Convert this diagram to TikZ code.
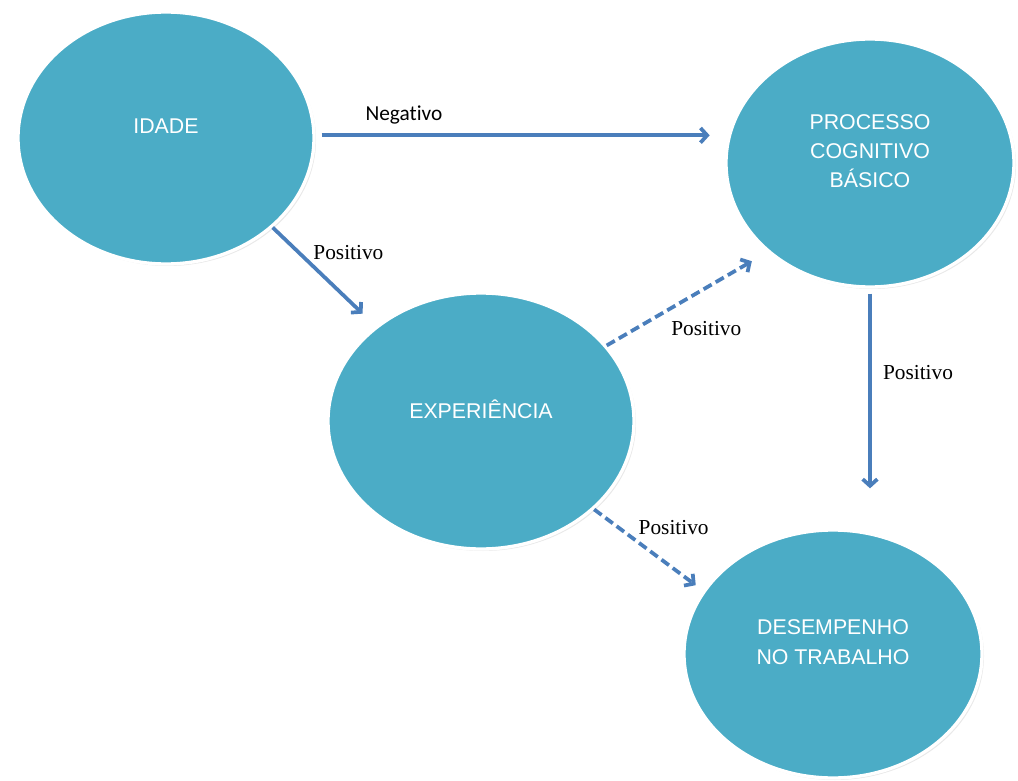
\documentclass[tikz,border=0pt]{standalone}
\usepackage{fontspec}
\setmainfont{Liberation Sans}
\newfontfamily\serifface{Liberation Serif}
\newfontfamily\calibriface[Ligatures=NoCommon]{Carlito}
\usetikzlibrary{positioning,arrows.meta,calc,shapes,shadows}
\definecolor{bubblefill}{HTML}{4BACC6}
\definecolor{arrowblue}{HTML}{4A7EBB}

\begin{document}
\begin{tikzpicture}[
    x=0.75pt, y=-0.75pt,
    bubble/.style={ellipse, draw=white, line width=2.5pt, fill=bubblefill, align=center, inner sep=0pt, text=white, font=\fontsize{16}{22}\selectfont, text depth=18pt, drop shadow={opacity=0.18, shadow xshift=1.5pt, shadow yshift=-1.5pt}},
    arrow/.style={-{Straight Barb[length=5pt, width=11pt]}, line width=2.8pt, draw=arrowblue},
    dasharrow/.style={arrow, dash pattern=on 7pt off 3.5pt},
    lbl/.style={font=\serifface\fontsize{16}{19}\selectfont, text=black}
]
\useasboundingbox (0,0) rectangle (1018,781);

% Nodes
\node[bubble, minimum width=222pt, minimum height=189pt] (idade) at (166,138) {IDADE};
\node[bubble, minimum width=216pt, minimum height=186pt] (processo) at (870,163) {PROCESSO\\COGNITIVO\\BÁSICO};
\node[bubble, minimum width=229.5pt, minimum height=192pt] (experiencia) at (481,421) {EXPERIÊNCIA};
\node[bubble, minimum width=223.5pt, minimum height=186pt] (desempenho) at (833,654) {DESEMPENHO\\NO TRABALHO};

% Arrows
\draw[arrow, shorten <=4.5pt, shorten >=11pt] ([yshift=2pt]idade.east) -- node[pos=0.216, yshift=15pt, font=\calibriface\fontsize{16}{19}\selectfont] {Negativo} ([yshift=2pt]idade.east -| processo.west);
\draw[arrow, shorten >=13.5pt] (idade.320) -- node[lbl, pos=0.25, xshift=37.5pt] {Positivo} (experiencia.138);
\draw[dasharrow, shorten >=13.5pt] (experiencia.31) -- node[lbl, pos=0.62, yshift=-30.75pt] {Positivo} (processo.221);
\draw[arrow, shorten <=3.75pt, shorten >=30pt] (processo.south) -- node[lbl, pos=0.35, xshift=36pt] {Positivo} (processo.south |- desempenho.north);
\draw[dasharrow, shorten >=6.75pt] (experiencia.322) -- node[lbl, pos=0.4, xshift=27pt, yshift=10.5pt] {Positivo} (desempenho.154);

\end{tikzpicture}
\end{document}
